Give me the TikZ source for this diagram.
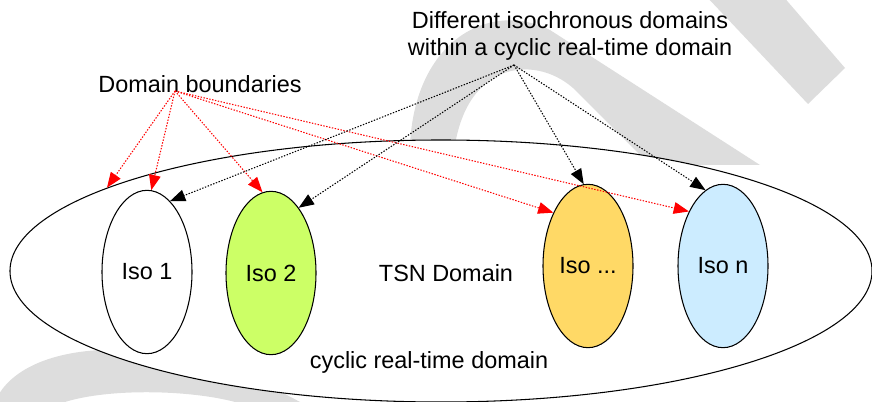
\documentclass[tikz,border=0pt]{standalone}
\usepackage{fontspec}
\setmainfont{Liberation Sans}
\usetikzlibrary{shapes.geometric}
\usetikzlibrary{arrows.meta}

\definecolor{isogreen}{RGB}{204,255,102}
\definecolor{isoorange}{RGB}{255,217,102}
\definecolor{isoblue}{RGB}{204,236,255}
\definecolor{wmgray}{RGB}{221,221,221}

\begin{document}
\begin{tikzpicture}[x=0.03cm,y=-0.03cm,
        every node/.style={font=\fontsize{20}{23}\selectfont},
        iso/.style={ellipse,draw,line width=0.9pt,minimum width=2.7cm,minimum height=4.9cm,inner sep=0pt},
        redarrow/.style={red,line width=0.9pt,dash pattern=on 1.2pt off 1.3pt,-{Triangle[length=13pt,width=10pt]}},
        blackarrow/.style={black,line width=0.9pt,dash pattern=on 1.2pt off 1.3pt,-{Triangle[length=13pt,width=10pt]}}]
            \useasboundingbox (0,0) rectangle (872,402);

            % watermark
            \fill[wmgray] (705,-5) -- (782,-5) -- (845,68) -- (808,104) -- cycle;
            \fill[wmgray] (410,145) .. controls (415,40) and (490,0) .. (550,30) -- (760,165) -- (650,165)
                -- (580,95) .. controls (545,55) and (470,55) .. (455,145) -- cycle;
            \fill[wmgray] (-5,402) .. controls (20,340) and (160,325) .. (300,402) -- (235,402)
                .. controls (190,390) and (110,388) .. (65,402) -- cycle;

            \node[ellipse,draw,fill=white,line width=0.9pt,minimum width=25.86cm,minimum height=7.86cm,inner sep=0pt] (rtdom) at (441,271) {};

            \node (tsnlbl) at (446,273) {TSN Domain};
            \node (cyclbl) at (429,362) {cyclic real-time domain};
            \node (bndlbl) at (200,84) {Domain boundaries};
            \node[align=center] (difflbl) at (570,36) {Different isochronous domains\\within a cyclic real-time domain};

            \node[iso,fill=white] (iso1) at (147,272) {Iso 1};
            \node[iso,fill=isogreen] (iso2) at (271,273) {Iso 2};
            \node[iso,fill=isoorange] (isodots) at (588,266) {Iso ...};
            \node[iso,fill=isoblue] (ison) at (723,266) {Iso n};

            \coordinate (bsrc) at (175,91);
            \coordinate (isrc) at (514,65);

            \draw[redarrow] (bsrc) -- (rtdom.166);
            \draw[redarrow] (bsrc) -- (iso1.87);
            \draw[redarrow] (bsrc) -- (iso2.96);
            \draw[redarrow] (bsrc) -- (isodots.123);
            \draw[redarrow] (bsrc) -- (ison.122);

            \draw[blackarrow] (isrc) -- (iso1.72);
            \draw[blackarrow] (isrc) -- (iso2.67);
            \draw[blackarrow] (isrc) -- (isodots.93);
            \draw[blackarrow] (isrc) -- (ison.103);
        \end{tikzpicture}
\end{document}
